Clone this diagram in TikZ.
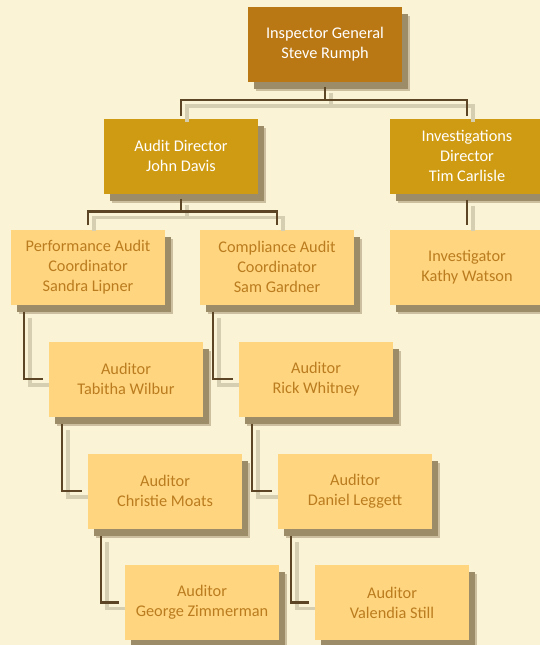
\documentclass[tikz,border=0pt]{standalone}
\usepackage{fontspec}
\setmainfont{Carlito}
\usetikzlibrary{calc}
\usetikzlibrary{shadows}
\definecolor{paper}{RGB}{250,243,214}
\definecolor{topc}{RGB}{186,120,20}
\definecolor{dirc}{RGB}{207,155,18}
\definecolor{staffc}{RGB}{255,213,128}
\definecolor{stafftext}{RGB}{186,124,30}
\definecolor{linec}{RGB}{91,69,36}
\definecolor{boxshade}{RGB}{156,140,104}
\definecolor{lineshade}{RGB}{214,206,176}

\begin{document}
\begin{tikzpicture}[x=1pt,y=-1pt,
 box/.style={minimum width=154pt, minimum height=75pt, inner sep=0pt, align=center,
   font=\fontsize{16.3}{20}\selectfont,
   drop shadow={fill=boxshade!50!paper, opacity=1, shadow xshift=8pt, shadow yshift=-9pt},
   drop shadow={fill=boxshade, opacity=1, shadow xshift=6pt, shadow yshift=-7pt}},
 head/.style={box, fill=topc, text=white},
 director/.style={box, fill=dirc, text=white},
 staff/.style={box, fill=staffc, text=stafftext},
 link/.style={draw=linec, line width=2.5pt,
   preaction={draw=lineshade, line width=3.5pt, transform canvas={shift={(6pt,-6pt)}}}}]
\fill[paper] (0,0) rectangle (540,645);
\useasboundingbox (0,0) rectangle (540,645);

% boxes
\node[head] (ig) at (325,44.5) {Inspector General\\Steve Rumph};
\node[director] (ad) at (181,156) {Audit Director\\John Davis};
\node[director] (id) at (467,156) {Investigations\\Director\\Tim Carlisle};
\node[staff] (pac) at (88,267) {Performance Audit\\Coordinator\\Sandra Lipner};
\node[staff] (cac) at (277,267) {Compliance Audit\\Coordinator\\Sam Gardner};
\node[staff] (inv) at (467,267) {Investigator\\Kathy Watson};
\foreach \n/\x/\y/\who in {a1/126/379/Tabitha Wilbur, a2/316/379/Rick Whitney,
  a3/165/491/Christie Moats, a4/355/491/Daniel Leggett,
  a5/202/602.5/George Zimmerman, a6/392/602.5/Valendia Still}
 \node[staff] (\n) at (\x,\y) {Auditor\\\who};

% connectors
\coordinate (igbar) at ($(ig.south)+(0,18)$);
\draw[link] ([yshift=-5pt]ig.south) -- (igbar);
\draw[link] ([yshift=2pt]ad.north) |- (igbar) -| ([yshift=2pt]id.north);
\coordinate (adbar) at ($(ad.south)+(0,18)$);
\draw[link] ([yshift=-5pt]ad.south) -- (adbar);
\draw[link] ([yshift=4pt]pac.north) |- (adbar) -| ([yshift=4pt]cac.north);
\draw[link] ([yshift=-6pt]id.south) -- ([yshift=4pt]inv.north);
\foreach \p/\c in {pac/a1, a1/a3, a3/a5, cac/a2, a2/a4, a4/a6}
 \draw[link] ($(\p.south west)+(13,7)$) |- ([xshift=-6pt]\c.west);
\end{tikzpicture}
\end{document}
